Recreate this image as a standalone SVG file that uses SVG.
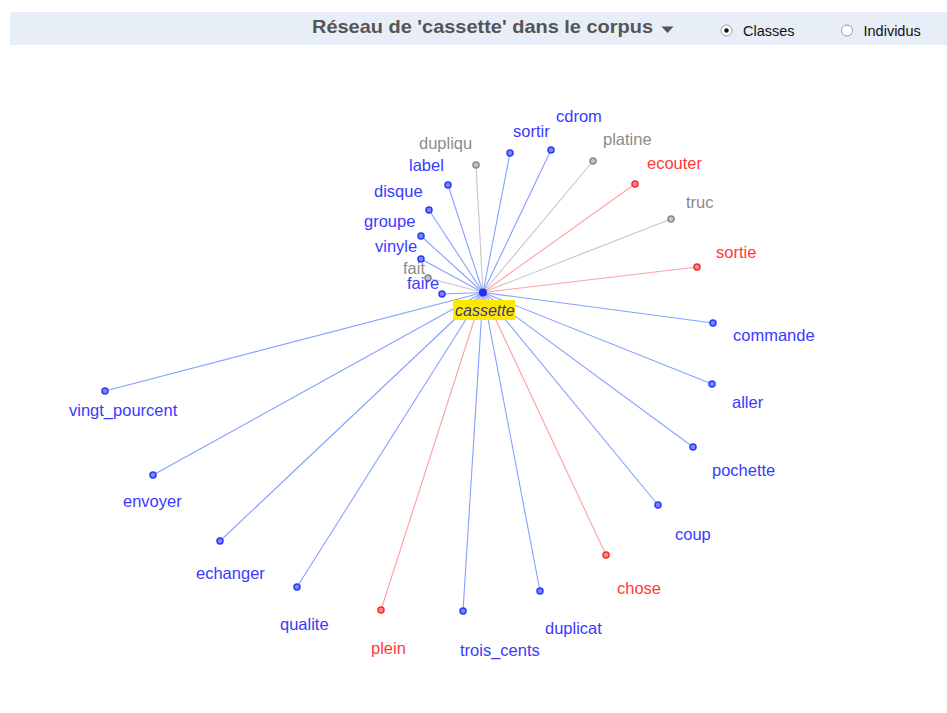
<svg xmlns="http://www.w3.org/2000/svg" width="947" height="713" viewBox="0 0 947 713">
<style>
text{font-family:"Liberation Sans",Arial,sans-serif}
.lbl{font-size:16.5px}
.b text{fill:#3a3aff}.r text{fill:#ff3a3a}.g text{fill:#8c8c8c}
.b circle{fill:#7d86ff;stroke:#2a3af5;stroke-width:1.5}
.r circle{fill:#ff8a8a;stroke:#f52a2a;stroke-width:1.5}
.g circle{fill:#c4c4c4;stroke:#888;stroke-width:1.5}
#connectors line{stroke-width:1.1}
.lb{stroke:#84a2ff}.lr{stroke:#ffa0a0}.lg{stroke:#c6c6c6}
</style>
<rect width="947" height="713" fill="#fff"/>
<g id="header">
<rect x="10" y="12" width="937" height="33" fill="#e7eef7"/>
<text x="312" y="33" font-size="19" font-weight="bold" fill="#555" textLength="341" lengthAdjust="spacingAndGlyphs">Réseau de 'cassette' dans le corpus</text>
<path d="M661.5,26.5 L673.5,26.5 L667.5,33 Z" fill="#555"/>
<circle cx="726.5" cy="30.5" r="5.5" fill="#fff" stroke="#999" stroke-width="1"/>
<circle cx="726.5" cy="30.5" r="2.2" fill="#111"/>
<text x="743" y="36" font-size="14.5" fill="#111">Classes</text>
<circle cx="847" cy="30.5" r="5.5" fill="#fff" stroke="#999" stroke-width="1"/>
<text x="863.5" y="36" font-size="14.5" fill="#111">Individus</text>
</g>
<g id="connectors">
<line class="lg" x1="483" y1="292.5" x2="476" y2="165"/>
<line class="lb" x1="483" y1="292.5" x2="510" y2="153"/>
<line class="lb" x1="483" y1="292.5" x2="551" y2="150"/>
<line class="lg" x1="483" y1="292.5" x2="593" y2="161"/>
<line class="lr" x1="483" y1="292.5" x2="635" y2="184"/>
<line class="lg" x1="483" y1="292.5" x2="671" y2="219"/>
<line class="lr" x1="483" y1="292.5" x2="697" y2="267"/>
<line class="lb" x1="483" y1="292.5" x2="713" y2="323"/>
<line class="lb" x1="483" y1="292.5" x2="712" y2="384"/>
<line class="lb" x1="483" y1="292.5" x2="693" y2="447"/>
<line class="lb" x1="483" y1="292.5" x2="658" y2="505"/>
<line class="lr" x1="483" y1="292.5" x2="606" y2="555"/>
<line class="lb" x1="483" y1="292.5" x2="540" y2="591"/>
<line class="lb" x1="483" y1="292.5" x2="463" y2="611"/>
<line class="lr" x1="483" y1="292.5" x2="381" y2="610"/>
<line class="lb" x1="483" y1="292.5" x2="297" y2="587"/>
<line class="lb" x1="483" y1="292.5" x2="220" y2="541"/>
<line class="lb" x1="483" y1="292.5" x2="153" y2="475"/>
<line class="lb" x1="483" y1="292.5" x2="105" y2="391"/>
<line class="lb" x1="483" y1="292.5" x2="448" y2="185"/>
<line class="lb" x1="483" y1="292.5" x2="429" y2="210"/>
<line class="lb" x1="483" y1="292.5" x2="421" y2="236"/>
<line class="lb" x1="483" y1="292.5" x2="421" y2="259"/>
<line class="lg" x1="483" y1="292.5" x2="428" y2="278"/>
<line class="lb" x1="483" y1="292.5" x2="442" y2="294"/>
</g>
<g id="n-dupliqu" class="g"><circle cx="476" cy="165" r="3"/><text class="lbl" x="419" y="149">dupliqu</text></g>
<g id="n-sortir" class="b"><circle cx="510" cy="153" r="3"/><text class="lbl" x="513" y="137">sortir</text></g>
<g id="n-cdrom" class="b"><circle cx="551" cy="150" r="3"/><text class="lbl" x="556" y="122">cdrom</text></g>
<g id="n-platine" class="g"><circle cx="593" cy="161" r="3"/><text class="lbl" x="603" y="145">platine</text></g>
<g id="n-ecouter" class="r"><circle cx="635" cy="184" r="3"/><text class="lbl" x="647" y="169">ecouter</text></g>
<g id="n-truc" class="g"><circle cx="671" cy="219" r="3"/><text class="lbl" x="686" y="208">truc</text></g>
<g id="n-sortie" class="r"><circle cx="697" cy="267" r="3"/><text class="lbl" x="716" y="258">sortie</text></g>
<g id="n-commande" class="b"><circle cx="713" cy="323" r="3"/><text class="lbl" x="733" y="341">commande</text></g>
<g id="n-aller" class="b"><circle cx="712" cy="384" r="3"/><text class="lbl" x="732" y="408">aller</text></g>
<g id="n-pochette" class="b"><circle cx="693" cy="447" r="3"/><text class="lbl" x="712" y="476">pochette</text></g>
<g id="n-coup" class="b"><circle cx="658" cy="505" r="3"/><text class="lbl" x="675" y="540">coup</text></g>
<g id="n-chose" class="r"><circle cx="606" cy="555" r="3"/><text class="lbl" x="617" y="594">chose</text></g>
<g id="n-duplicat" class="b"><circle cx="540" cy="591" r="3"/><text class="lbl" x="545" y="634">duplicat</text></g>
<g id="n-trois_cents" class="b"><circle cx="463" cy="611" r="3"/><text class="lbl" x="460" y="656">trois_cents</text></g>
<g id="n-plein" class="r"><circle cx="381" cy="610" r="3"/><text class="lbl" x="371" y="654">plein</text></g>
<g id="n-qualite" class="b"><circle cx="297" cy="587" r="3"/><text class="lbl" x="280" y="630">qualite</text></g>
<g id="n-echanger" class="b"><circle cx="220" cy="541" r="3"/><text class="lbl" x="196" y="579">echanger</text></g>
<g id="n-envoyer" class="b"><circle cx="153" cy="475" r="3"/><text class="lbl" x="123" y="507">envoyer</text></g>
<g id="n-vingt_pourcent" class="b"><circle cx="105" cy="391" r="3"/><text class="lbl" x="69" y="416">vingt_pourcent</text></g>
<g id="n-label" class="b"><circle cx="448" cy="185" r="3"/><text class="lbl" x="409" y="171">label</text></g>
<g id="n-disque" class="b"><circle cx="429" cy="210" r="3"/><text class="lbl" x="374" y="197">disque</text></g>
<g id="n-groupe" class="b"><circle cx="421" cy="236" r="3"/><text class="lbl" x="364" y="227">groupe</text></g>
<g id="n-vinyle" class="b"><circle cx="421" cy="259" r="3"/><text class="lbl" x="375" y="252">vinyle</text></g>
<g id="n-fait" class="g"><circle cx="428" cy="278" r="3"/><text class="lbl" x="403" y="274">fait</text></g>
<g id="n-faire" class="b"><circle cx="442" cy="294" r="3"/><text class="lbl" x="407" y="289">faire</text></g>
<g id="n-cassette">
<circle cx="483" cy="292.5" r="4" fill="#2233e0"/>
<rect x="453" y="300" width="62" height="20" fill="#ffe800"/>
<text x="455" y="316" font-size="16" font-style="italic" fill="#3b3b7a">cassette</text>
</g>
</svg>
